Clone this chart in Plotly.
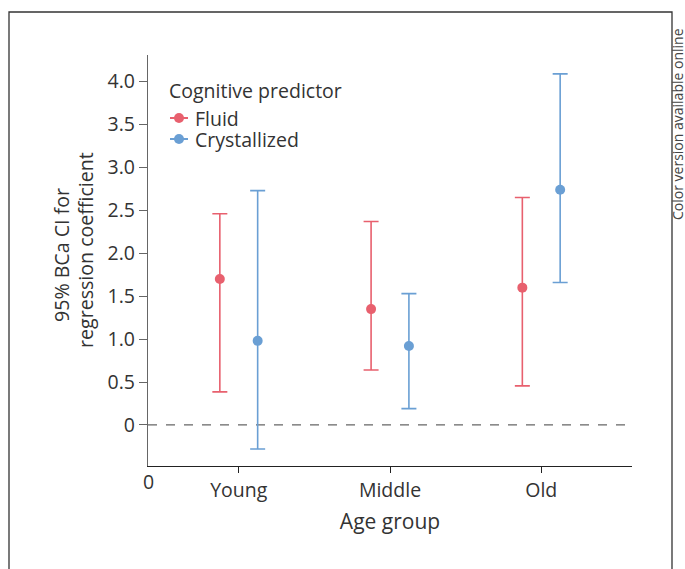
import plotly.graph_objects as go

groups = ["Young", "Middle", "Old"]
group_pos = [1, 2, 3]
fluid_est = [1.70, 1.35, 1.60]
fluid_lo = [0.385, 0.64, 0.455]
fluid_hi = [2.46, 2.37, 2.65]
cryst_est = [0.98, 0.92, 2.74]
cryst_lo = [-0.28, 0.19, 1.66]
cryst_hi = [2.73, 1.53, 4.09]
y_ticks = [0, 0.5, 1.0, 1.5, 2.0, 2.5, 3.0, 3.5, 4.0]
y_tick_text = ["0", "0.5", "1.0", "1.5", "2.0", "2.5", "3.0", "3.5", "4.0"]
series_names = ["Fluid", "Crystallized"]

offset = 0.125
red = "#E8606E"
blue = "#6A9FD4"
font = "Open Sans"
tick_size = 19.5
title_size = 19.6
text_color = "#333"

W, H = 685, 569
L, R, T, B = 148, 53, 55, 103
PW, PH = W - L - R, H - T - B

def px(x):
    return (x - L) / PW

def py(y):
    return (H - B - y) / PH

fig = go.Figure()

def add_series(name, est, lo, hi, color, dx):
    fig.add_trace(go.Scatter(
        x=[p + dx for p in group_pos], y=est, name=name, mode="markers",
        marker=dict(color=color, size=10), showlegend=False,
        error_y=dict(type="data", symmetric=False,
                     array=[h - e for h, e in zip(hi, est)],
                     arrayminus=[e - l for e, l in zip(est, lo)],
                     color=color, thickness=1.6, width=7.5),
    ))

add_series(series_names[0], fluid_est, fluid_lo, fluid_hi, red, -offset)
add_series(series_names[1], cryst_est, cryst_lo, cryst_hi, blue, offset)

fig.add_shape(type="line", xref="x", yref="y", x0=0.4, x1=3.6, y0=0, y1=0,
              line=dict(color="#666", width=1.3, dash="dash"), layer="below")
# outer frame
fig.add_shape(type="rect", xref="paper", yref="paper", x0=px(9), x1=px(672),
              y0=py(600), y1=py(12), line=dict(color="#333", width=1.3))

# manual legend
fig.add_annotation(x=px(167), y=py(90), xref="paper", yref="paper",
                   text="Cognitive predictor", showarrow=False,
                   xanchor="left", yanchor="middle",
                   font=dict(family=font, size=tick_size, color=text_color))
for name, color, yy in [(series_names[0], red, 118), (series_names[1], blue, 139)]:
    fig.add_shape(type="line", xref="paper", yref="paper",
                  x0=px(170), x1=px(188), y0=py(yy), y1=py(yy),
                  line=dict(color=color, width=2))
    fig.add_shape(type="circle", xref="paper", yref="paper",
                  x0=px(174), x1=px(184), y0=py(yy + 5), y1=py(yy - 5),
                  fillcolor=color, line=dict(color=color, width=0))
    fig.add_annotation(x=px(193), y=py(yy), xref="paper", yref="paper",
                       text=name, showarrow=False, xanchor="left", yanchor="middle",
                       font=dict(family=font, size=tick_size, color=text_color))

# y-axis title (two lines)
fig.add_annotation(x=px(62), y=py(255), xref="paper", yref="paper",
                   text="95% BCa CI for", showarrow=False, textangle=-90,
                   xanchor="center", yanchor="middle",
                   font=dict(family=font, size=title_size, color=text_color))
fig.add_annotation(x=px(85), y=py(250), xref="paper", yref="paper",
                   text="regression coefficient", showarrow=False, textangle=-90,
                   xanchor="center", yanchor="middle",
                   font=dict(family=font, size=title_size, color=text_color))

fig.add_annotation(x=0.4, y=-0.478, xref="x", yref="y", text="0", showarrow=False,
                   yanchor="top", xanchor="center", yshift=0,
                   font=dict(family=font, size=tick_size, color=text_color))
fig.add_annotation(x=px(678), y=py(222), xref="paper", yref="paper",
                   text="Color version available online", showarrow=False,
                   textangle=-90, xanchor="center", yanchor="bottom",
                   font=dict(family=font, size=14, color="#444"))

fig.update_layout(
    width=W, height=H,
    margin=dict(l=L, r=R, t=T, b=B),
    paper_bgcolor="white", plot_bgcolor="white",
    font=dict(family=font, size=17.5, color=text_color),
    showlegend=False,
    xaxis=dict(range=[0.4, 3.6], tickvals=group_pos, ticktext=groups,
               showgrid=False, zeroline=False, showline=True, linecolor="#222",
               linewidth=1.3, ticks="outside", ticklen=6, tickcolor="#222",
               title=dict(text="Age group", standoff=12),
               tickfont=dict(size=tick_size)),
    yaxis=dict(range=[-0.478, 4.31], tickvals=y_ticks, ticktext=y_tick_text,
               showgrid=False, zeroline=False, showline=True, linecolor="#666",
               linewidth=1.3, ticks="outside", ticklen=8, tickcolor="#666",
               tickfont=dict(size=tick_size)),
)

fig.write_html("out.html", config={"displayModeBar": False},
               post_script="document.body.style.margin='0';")
